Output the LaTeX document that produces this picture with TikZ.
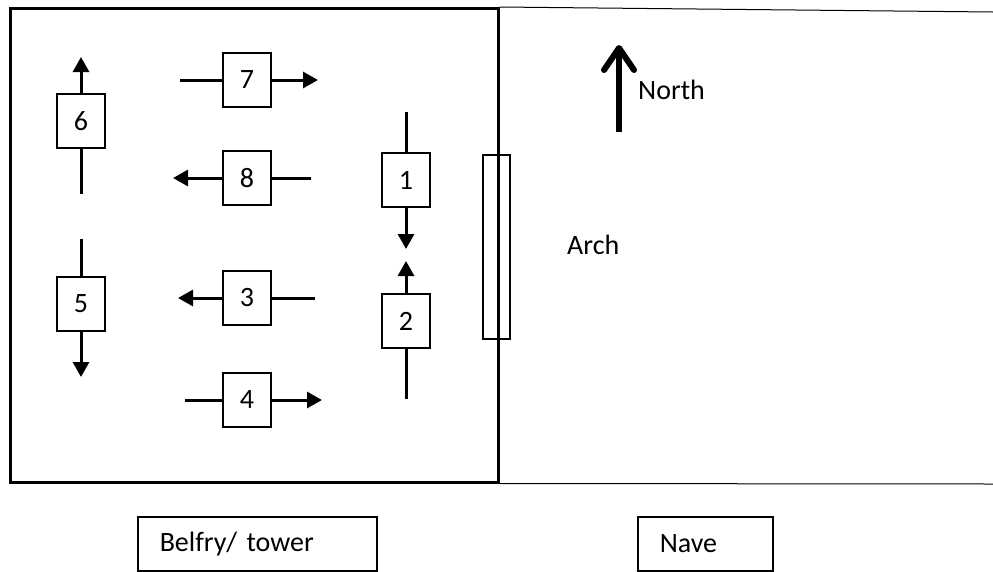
\documentclass[tikz,border=0pt]{standalone}
\usepackage{fontspec}
\setmainfont{Carlito}
\usetikzlibrary{arrows.meta}
\begin{document}
\begin{tikzpicture}[x=1pt,y=-1pt,
  txt/.style={font=\fontsize{28}{32}\selectfont},
  num/.style={txt, draw, line width=2pt, minimum width=48pt, minimum height=54pt, inner sep=0pt},
  lbl/.style={txt, draw, line width=1.5pt, minimum height=54pt, anchor=north west, inner xsep=22pt, inner ysep=0pt, align=left},
  stub/.style={line width=3pt},
  arr/.style={line width=3pt, -{Triangle[length=15pt,width=16pt]}},
]
\useasboundingbox (0,0) rectangle (993,571);
% tower and nave
\node[draw, line width=2.5pt, minimum width=488pt, minimum height=474pt, anchor=north west, inner sep=0pt] (tower) at (9,7) {};
\coordinate (nne) at (993,12);
\coordinate (nse) at (993,484);
\draw[line width=1pt] (tower.north east) -- (nne);
\draw[line width=1pt] (tower.south east) -- (nse);
\node[draw, line width=2pt, minimum width=27pt, minimum height=184pt, inner sep=0pt] (arch) at (496.5,247) {};
% numbered boxes
\node[num] (b1) at (406,180) {1};
\node[num] (b2) at (406,321) {2};
\node[num] (b3) at (247,298) {3};
\node[num] (b4) at (247,400) {4};
\node[num] (b5) at (81,304) {5};
\node[num] (b6) at (81,121) {6};
\node[num] (b7) at (247,80) {7};
\node[num] (b8) at (247,178) {8};
% ends
\coordinate (e1a) at (406,112); \coordinate (e1b) at (406,249);
\coordinate (e2a) at (406,399); \coordinate (e2b) at (406,261);
\coordinate (e3a) at (315,298); \coordinate (e3b) at (178,298);
\coordinate (e4a) at (185,400); \coordinate (e4b) at (322,400);
\coordinate (e5a) at (81,239);  \coordinate (e5b) at (81,377);
\coordinate (e6a) at (81,194);  \coordinate (e6b) at (81,57);
\coordinate (e7a) at (180,80);  \coordinate (e7b) at (318,80);
\coordinate (e8a) at (311,178); \coordinate (e8b) at (173,178);
\foreach \i in {1,...,8} {
  \draw[stub] (e\i a) -- (b\i);
  \draw[arr] (b\i) -- (e\i b);
}
% north
\coordinate (ns) at (619,132);
\coordinate (nt) at (619,45);
\draw[line width=6pt, -{Straight Barb[length=22pt,width=30pt,round]}] (ns) -- (nt);
\node[txt, anchor=west, inner sep=0pt] (north) at (638,90) {North};
\node[txt, anchor=west, inner sep=0pt] (archlbl) at (567,245) {Arch};
% labels
\node[lbl, text width=195pt] (belfry) at (137,516) {Belfry/ tower};
\node[lbl, text width=91pt] (nave) at (637,516) {Nave};
\end{tikzpicture}
\end{document}
